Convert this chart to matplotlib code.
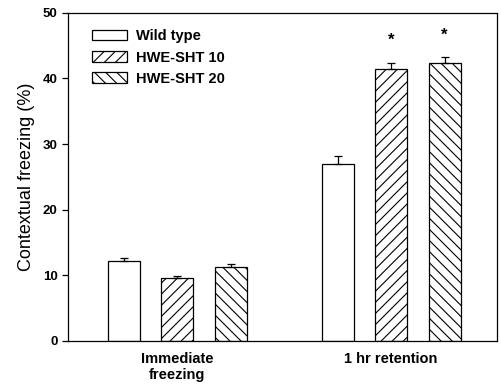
import numpy as np
import matplotlib.pyplot as plt

plt.rcParams['font.family'] = ['Liberation Sans', 'DejaVu Sans']
plt.rcParams['hatch.linewidth'] = 0.8

groups = ['Immediate\nfreezing', '1 hr retention']
series = ['Wild type', 'HWE-SHT 10', 'HWE-SHT 20']
hatches = ['', '///', '\\\\\\']
values = {
    'Wild type': [12.2, 26.9],
    'HWE-SHT 10': [9.6, 41.4],
    'HWE-SHT 20': [11.3, 42.4],
}
errors = {
    'Wild type': [0.35, 1.2],
    'HWE-SHT 10': [0.25, 0.9],
    'HWE-SHT 20': [0.35, 0.9],
}
star_y = [45.8, 46.6]  # asterisks over 1 hr HWE bars

fig, ax = plt.subplots(figsize=(5.01, 3.89), dpi=100)
fig.subplots_adjust(left=0.136, right=0.992, top=0.967, bottom=0.124)

x = np.arange(len(groups))
offs = [-0.25, 0, 0.25]
w = 0.15
for s, h, o in zip(series, hatches, offs):
    ax.bar(x + o, values[s], w, color='white', edgecolor='black', hatch=h,
           linewidth=0.9, label=s, zorder=2)
    ax.errorbar(x + o, values[s], yerr=[[0, 0], errors[s]], fmt='none',
                ecolor='black', elinewidth=0.9, capsize=3, capthick=0.9, zorder=3)

for xi, yi in zip([1, 1.25], star_y):
    ax.text(xi, yi, '*', ha='center', va='center', fontsize=12, fontweight='bold')

ax.set_xlim(-0.51, 1.495)
ax.set_ylim(0, 50)
ax.set_yticks([0, 10, 20, 30, 40, 50])
ax.set_xticks(x)
ax.set_xticklabels(groups, fontweight='bold', fontsize=10.5)
ax.tick_params(axis='x', length=0, pad=8)
ax.tick_params(axis='y', length=4, width=0.9, labelsize=9.5)
for lab in ax.get_yticklabels():
    lab.set_fontweight('bold')
ax.set_ylabel('Contextual freezing (%)', fontsize=13, labelpad=6)
for sp in ax.spines.values():
    sp.set_linewidth(0.9)

leg = ax.legend(loc='upper left', frameon=False, fontsize=10.5, handlelength=2.4,
                handleheight=0.75, handletextpad=0.6, labelspacing=0.5,
                bbox_to_anchor=(0.025, 0.99))
for t in leg.get_texts():
    t.set_fontweight('bold')

plt.savefig('out.png', dpi=100)
